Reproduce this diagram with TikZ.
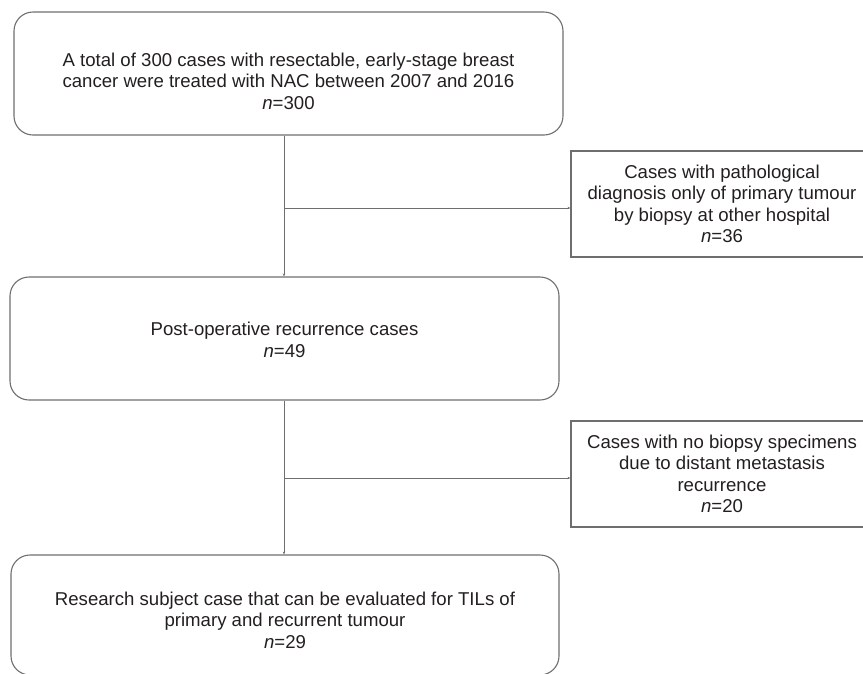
\documentclass[tikz,border=0pt]{standalone}
\usepackage{fontspec}
\setmainfont{Liberation Sans}
\usetikzlibrary{arrows.meta}
\definecolor{linegray}{HTML}{6E6E6E}
\definecolor{txt}{HTML}{231F20}
\tikzset{
  mainbox/.style={draw=linegray, line width=1.1pt, rounded corners=19pt, minimum width=549pt, minimum height=123pt, inner sep=0pt},
  sidebox/.style={draw=linegray, line width=1.1pt, minimum width=302pt, minimum height=106pt, inner sep=0pt, align=center, text=txt, font=\fontsize{18.6}{21.5}\selectfont},
  boxtext/.style={align=center, text=txt, font=\fontsize{18.6}{21.5}\selectfont, inner sep=0pt},
  conn/.style={draw=linegray, line width=0.95pt, -{Stealth[length=3pt,width=2.4pt]}}
}
\begin{document}
\begin{tikzpicture}[x=1pt,y=-1pt]
\clip (0,0) rectangle (863,673);
\node[mainbox] (b1) at (288.5,73.5) {};
\node[boxtext] (t1) at (288.5,81) {A total of 300 cases with resectable, early-stage breast\\cancer were treated with NAC between 2007 and 2016\\\textit{n}=300};
\node[mainbox] (b2) at (284.5,338.5) {};
\node[boxtext] (t2) at (284.5,340) {Post-operative recurrence cases\\\textit{n}=49};
\node[mainbox, minimum width=548pt, minimum height=120pt] (b3) at (285,615) {};
\node[boxtext] (t3) at (285,620) {Research subject case that can be evaluated for TILs of\\primary and recurrent tumour\\\textit{n}=29};
\node[sidebox] (r1) at (722,204) {Cases with pathological\\diagnosis only of primary tumour\\by biopsy at other hospital\\\textit{n}=36};
\node[sidebox] (r2) at (722,474) {Cases with no biopsy specimens\\due to distant metastasis\\recurrence\\\textit{n}=20};
\coordinate (j1) at (284,208);
\coordinate (j2) at (284,478);
\draw[conn] (b1.south -| j1) -- (b2.north -| j1);
\draw[conn] (j1) -- (j1 -| r1.west);
\draw[conn] (b2.south -| j2) -- (b3.north -| j2);
\draw[conn] (j2) -- (j2 -| r2.west);
\end{tikzpicture}
\end{document}
